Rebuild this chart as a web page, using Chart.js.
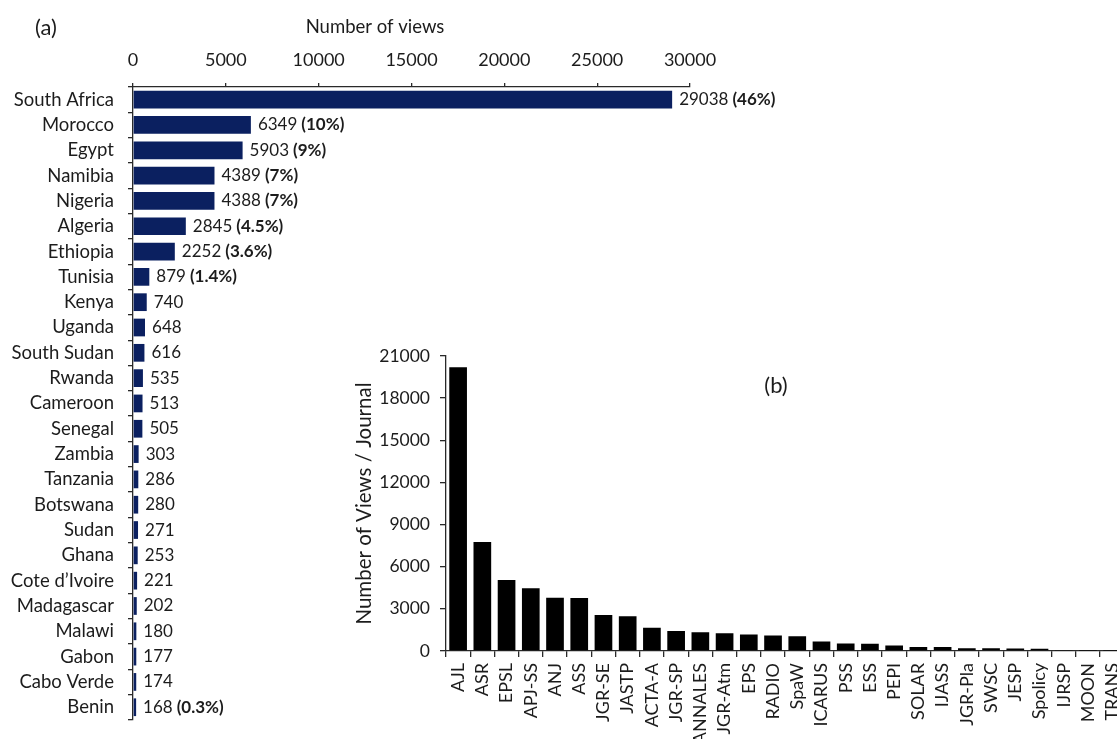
<!DOCTYPE html>
<html>
<head>
<meta charset="utf-8">
<script src="https://cdn.jsdelivr.net/npm/chart.js@4.4.1/dist/chart.umd.min.js"></script>
<style>
  html, body { margin: 0; padding: 0; background: #fff; width: 1117px; height: 739px; overflow: hidden; position: relative; }
  #panelA { position: absolute; left: 0; top: 0; }
  #panelB { position: absolute; left: 340px; top: 330px; }
  canvas { display: block; }
</style>
</head>
<body>
<canvas id="panelA" width="800" height="745"></canvas>
<canvas id="panelB" width="800" height="450"></canvas>
<script>
// (a) views per country
const countries = [
  'South Africa', 'Morocco', 'Egypt', 'Namibia', 'Nigeria', 'Algeria', 'Ethiopia',
  'Tunisia', 'Kenya', 'Uganda', 'South Sudan', 'Rwanda', 'Cameroon', 'Senegal',
  'Zambia', 'Tanzania', 'Botswana', 'Sudan', 'Ghana', 'Cote d\u2019Ivoire',
  'Madagascar', 'Malawi', 'Gabon', 'Cabo Verde', 'Benin'
];
const countryViews = [
  29038, 6349, 5903, 4389, 4388, 2845, 2252, 879, 740, 648, 616, 535, 513, 505,
  303, 286, 280, 271, 253, 221, 202, 180, 177, 174, 168
];
const countryShares = [
  '46%', '10%', '9%', '7%', '7%', '4.5%', '3.6%', '1.4%', '', '', '', '', '', '',
  '', '', '', '', '', '', '', '', '', '', '0.3%'
];
const countryAxisTicks = [0, 5000, 10000, 15000, 20000, 25000, 30000];

// (b) views per journal
const journals = [
  'AJL', 'ASR', 'EPSL', 'APJ-SS', 'ANJ', 'ASS', 'JGR-SE', 'JASTP', 'ACTA-A',
  'JGR-SP', 'ANNALES', 'JGR-Atm', 'EPS', 'RADIO', 'SpaW', 'ICARUS', 'PSS', 'ESS',
  'PEPI', 'SOLAR', 'IJASS', 'JGR-Pla', 'SWSC', 'JESP', 'Spolicy', 'IJRSP', 'MOON', 'TRANS'
];
const journalViews = [
  20200, 7760, 5050, 4460, 3790, 3780, 2560, 2470, 1660, 1420, 1330, 1260, 1170,
  1100, 1050, 670, 530, 520, 400, 290, 290, 200, 200, 170, 160, 75, 20, 10
];
const journalAxisTicks = [0, 3000, 6000, 9000, 12000, 15000, 18000, 21000];

const FONT = 'Lato, "Open Sans", sans-serif';
const TEXT = '#1c1c1c';
const AXIS = '#2a2a2a';
const NAVY = '#0b2060';

Chart.defaults.font.family = FONT;
Chart.defaults.color = TEXT;

const plainNumber = v => String(v);

// free text drawn on a canvas (panel letters, axis caption)
const captions = {
  id: 'captions',
  afterDraw(chart, args, opts) {
    const ctx = chart.ctx;
    ctx.save();
    ctx.fillStyle = TEXT;
    ctx.textAlign = 'center';
    ctx.textBaseline = 'middle';
    (opts.items || []).forEach(it => {
      ctx.font = it.size + 'px ' + FONT;
      ctx.fillText(it.text, it.x, it.y);
    });
    ctx.restore();
  }
};

// value (and share) printed at the end of each country bar
const barValues = {
  id: 'barValues',
  afterDatasetsDraw(chart) {
    const ctx = chart.ctx;
    const meta = chart.getDatasetMeta(0);
    ctx.save();
    ctx.fillStyle = TEXT;
    ctx.textBaseline = 'middle';
    ctx.textAlign = 'left';
    meta.data.forEach((bar, i) => {
      const num = String(countryViews[i]);
      let x = bar.x + 7;
      ctx.font = '17px ' + FONT;
      ctx.fillText(num, x, bar.y);
      if (countryShares[i]) {
        x += ctx.measureText(num).width + 4;
        ctx.font = 'bold 17px ' + FONT;
        ctx.fillText('(' + countryShares[i] + ')', x, bar.y);
      }
    });
    ctx.restore();
  }
};

new Chart(document.getElementById('panelA'), {
  type: 'bar',
  data: {
    labels: countries,
    datasets: [{
      data: countryViews,
      backgroundColor: NAVY,
      borderWidth: 0,
      categoryPercentage: 1,
      barPercentage: 0.7
    }]
  },
  options: {
    indexAxis: 'y',
    responsive: false,
    animation: false,
    layout: { padding: { left: 0, top: 0, right: 110, bottom: 1.75 } },
    plugins: {
      legend: { display: false },
      tooltip: { enabled: false },
      captions: {
        items: [
          { text: '(a)', x: 46, y: 28, size: 22 },
          { text: 'Number of views', x: 375, y: 27, size: 18.5 }
        ]
      }
    },
    scales: {
      x: {
        position: 'top',
        min: 0,
        max: 30000,
        afterBuildTicks(s) { s.ticks = countryAxisTicks.map(v => ({ value: v })); },
        afterFit(s) { s.height = 87; },
        ticks: { font: { size: 18 }, color: TEXT, padding: 12, maxRotation: 0, callback: plainNumber },
        grid: { drawOnChartArea: false, tickLength: 4, color: AXIS, lineWidth: 1.3 },
        border: { color: AXIS, width: 1.3 }
      },
      y: {
        afterFit(s) { s.width = 133; },
        ticks: { font: { size: 18.5 }, color: TEXT, padding: 14, autoSkip: false },
        grid: { drawOnChartArea: false, tickLength: 5, offset: true, color: AXIS, lineWidth: 1.3 },
        border: { color: AXIS, width: 1.3 }
      }
    }
  },
  plugins: [barValues, captions]
});

new Chart(document.getElementById('panelB'), {
  type: 'bar',
  data: {
    labels: journals,
    datasets: [{
      data: journalViews,
      backgroundColor: '#000000',
      borderWidth: 0,
      categoryPercentage: 1,
      barPercentage: 0.73
    }]
  },
  options: {
    responsive: false,
    animation: false,
    layout: { padding: { left: 0, top: 26, right: 12.2, bottom: 0 } },
    plugins: {
      legend: { display: false },
      tooltip: { enabled: false },
      captions: { items: [{ text: '(b)', x: 436, y: 56, size: 22 }] }
    },
    scales: {
      x: {
        afterFit(s) { s.height = 129; },
        ticks: { font: { size: 18 }, color: TEXT, padding: 6, autoSkip: false, minRotation: 90, maxRotation: 90 },
        grid: { drawOnChartArea: false, tickLength: 6, offset: true, color: AXIS, lineWidth: 1.3 },
        border: { color: AXIS, width: 1.3 }
      },
      y: {
        min: 0,
        max: 21000,
        afterBuildTicks(s) { s.ticks = journalAxisTicks.map(v => ({ value: v })); },
        afterFit(s) { s.width = 106; },
        ticks: { font: { size: 17.5 }, color: TEXT, padding: 10, callback: plainNumber },
        grid: { drawOnChartArea: false, tickLength: 6, color: AXIS, lineWidth: 1.3 },
        border: { color: AXIS, width: 1.3 },
        title: {
          display: true,
          text: 'Number of Views / Journal',
          font: { size: 20.5 },
          color: TEXT,
          padding: { top: 11.7, bottom: 0 }
        }
      }
    }
  },
  plugins: [captions]
});
</script>
</body>
</html>
